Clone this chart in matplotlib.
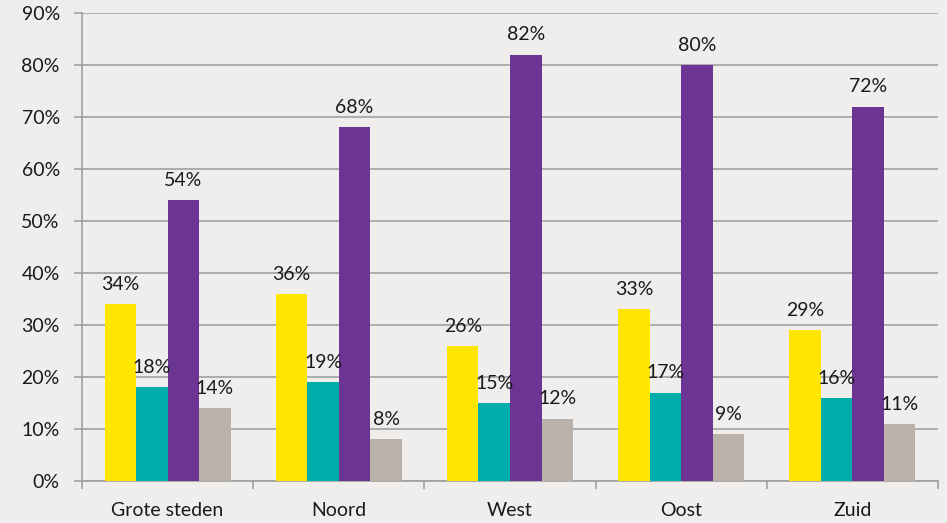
import matplotlib
matplotlib.use("Agg")
import matplotlib.pyplot as plt
import numpy as np

categories = ["Grote steden", "Noord", "West", "Oost", "Zuid"]
yellow = [34, 36, 26, 33, 29]
teal = [18, 19, 15, 17, 16]
purple = [54, 68, 82, 80, 72]
grey = [14, 8, 12, 9, 11]
series = [yellow, teal, purple, grey]
colors = ["#FFE600", "#00ADAB", "#6C3594", "#BAB2AA"]
yticks = [0, 10, 20, 30, 40, 50, 60, 70, 80, 90]

plt.rcParams['font.family'] = ['Lato', 'DejaVu Sans']

fig = plt.figure(figsize=(9.47, 5.23), dpi=100, facecolor="#EFEEEC")
ax = fig.add_axes([82/947, 1-481/523, (938-82)/947, (481-13)/523])
ax.set_facecolor("#EFEEEC")

x = np.arange(len(categories))
w = 0.184
offsets = [-1.5*w, -0.5*w, 0.5*w, 1.5*w]
for vals, c, off in zip(series, colors, offsets):
    ax.bar(x + off, vals, width=w, color=c, zorder=3)
    for xi, v in zip(x + off, vals):
        ax.annotate(f"{v}%", (xi, v), xytext=(0, 8), textcoords="offset points",
                    ha="center", va="bottom", fontsize=14, color="#1a1a1a", zorder=4)

ax.set_xlim(-0.5, len(categories) - 0.5)
ax.set_ylim(0, 90)
ax.set_yticks(yticks)
ax.set_yticklabels([f"{t}%" for t in yticks], fontsize=14, color="#1a1a1a")
ax.yaxis.grid(True, color="#A0A0A0", linewidth=1.2, zorder=0)
ax.set_axisbelow(True)

ax.set_xticks(x)
ax.set_xticklabels(categories, fontsize=14, color="#1a1a1a")
ax.tick_params(axis="x", which="major", length=0, pad=15)
ax.set_xticks(np.arange(-0.5, len(categories) + 0.5, 1), minor=True)
ax.tick_params(axis="x", which="minor", length=6, color="#A0A0A0", width=1.2)
ax.tick_params(axis="y", length=6, color="#A0A0A0", width=1.2, pad=10)

for s in ["top", "right"]:
    ax.spines[s].set_visible(False)
for s in ["left", "bottom"]:
    ax.spines[s].set_color("#A0A0A0")
    ax.spines[s].set_linewidth(1.2)

fig.savefig("out.png", dpi=100, facecolor=fig.get_facecolor())
